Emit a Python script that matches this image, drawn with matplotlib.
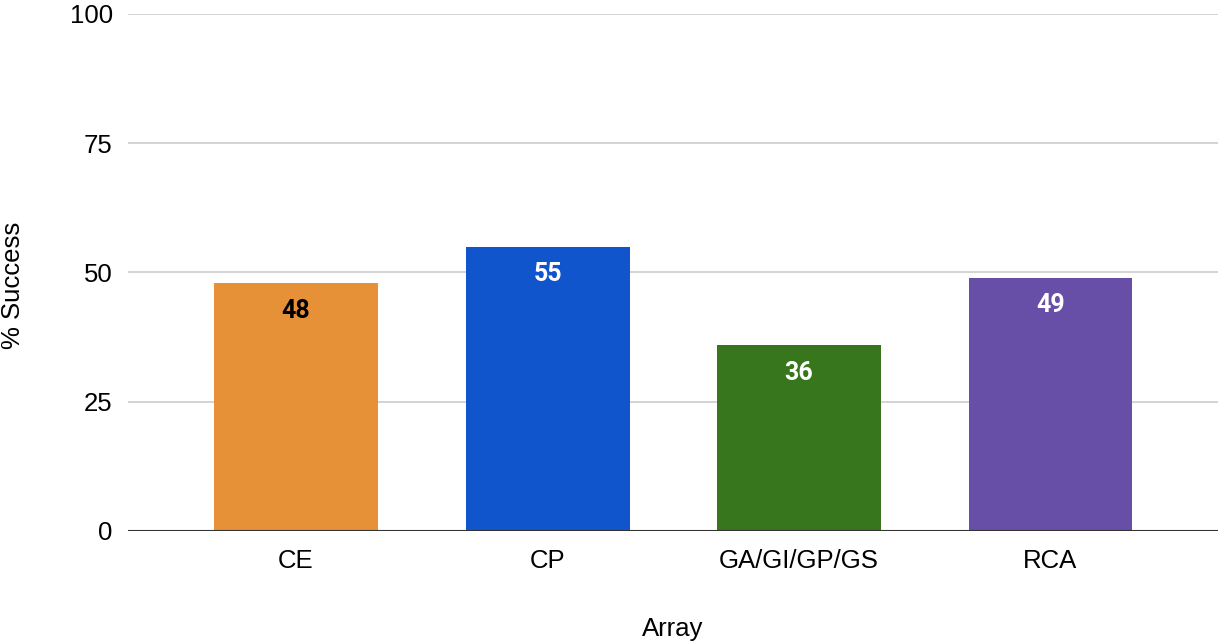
import matplotlib.pyplot as plt
import numpy as np

categories = ['CE', 'CP', 'GA/GI/GP/GS', 'RCA']
success = [48, 55, 36, 49]
colors = ['#E69138', '#1155CC', '#38761D', '#674EA7']
label_colors = ['black', 'white', 'white', 'white']
yticks = [0, 25, 50, 75, 100]

fig = plt.figure(figsize=(12.23, 6.44), dpi=100)
ax = fig.add_axes([0.1047, 0.1755, 0.8912, 0.8028])

x = np.arange(len(categories))
bars = ax.bar(x, success, width=0.652, color=colors, zorder=3)

for xi, val, lc in zip(x, success, label_colors):
    ax.annotate(str(val), (xi, val), xytext=(0, -20), textcoords='offset points',
                ha='center', va='center', fontsize=18, fontweight='bold',
                color=lc, family='Roboto', zorder=4)

ax.set_xlim(-0.668, 3.666)
ax.set_ylim(0, 100)
ax.set_yticks(yticks)
ax.set_xticks(x)
ax.set_xticklabels(categories, family='Liberation Sans', fontsize=18.5)
ax.set_yticklabels([str(t) for t in yticks], family='Liberation Sans', fontsize=18.5)
ax.tick_params(axis='y', length=0, pad=11)
ax.tick_params(axis='x', length=0, pad=13)

ax.yaxis.grid(True, color='#cccccc', linewidth=1.2, zorder=0)
ax.axhline(0, color='#333333', linewidth=1.5, zorder=5)
for s in ax.spines.values():
    s.set_visible(False)

ax.set_xlabel('Array', family='Liberation Sans', fontsize=18.5, labelpad=32)
ax.set_ylabel('% Success', family='Liberation Sans', fontsize=18.5, labelpad=27)
ax.yaxis.set_label_coords(-0.095, 0.475)

fig.savefig('out.png', dpi=100)
